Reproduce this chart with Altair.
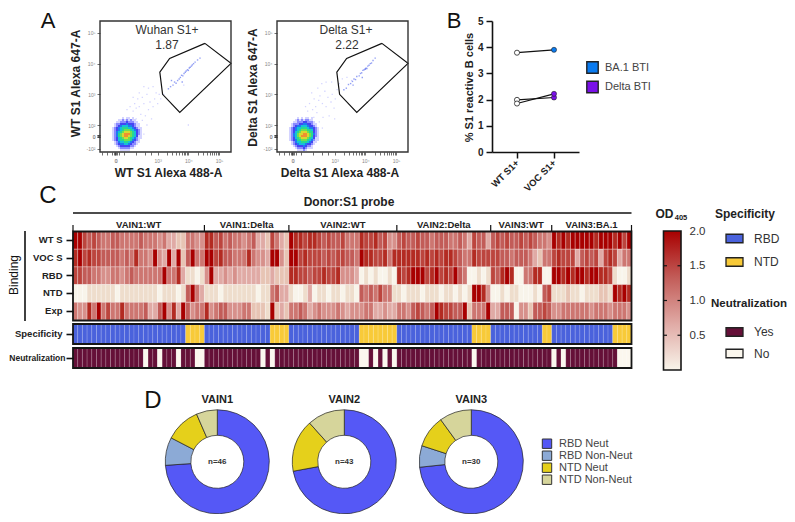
import altair as alt
import pandas as pd

F = "Liberation Sans"
W, H = 779, 506

# ---------- Panel A values (axes in decade units of the biexponential display)
gate_x = [4.54, 5.39, 3.72, 3.16, 3.07, 3.39, 4.54]
gate_y = [4.66, 4.01, 2.41, 3.00, 3.72, 4.17, 4.66]
x_ticks = [1.2, 1.35, 1.5, 1.58, 1.6, 1.62, 1.64, 1.66, 1.75, 1.9, 2.3, 2.6, 2.78, 3, 3.3, 3.48, 3.6, 3.7, 3.78, 3.85,
           3.9, 3.95, 4, 4.3, 4.48, 4.6, 4.7, 4.78, 4.85, 4.9, 4.95, 5]
y_ticks = [1.22, 1.6, 1.62, 1.64, 1.66, 1.68, 2, 3, 4, 5]
tick_labels = "{'1.22':'-10²','1.64':'0','1.62':'0','2':'10²','3':'10³','4':'10⁴','5':'10⁵'}[datum.value] || ''"

blob_1 = ["000001011010000", "000112121211000", "001122232221100", "012233343332110", "012345554432110",
          "123456665543211", "123456777654321", "124567888765321", "124678999765321", "124678998765311",
          "123567887654211", "123566777643210", "012455665432110", "012344554322100", "001233333221000",
          "000122222110000", "000011111000000"]
blob_2 = ["000010101101000", "000121212211000", "001122233222100", "012223344332110", "012344555433210",
          "123455666544321", "123456777665321", "123567888766321", "124578899876421", "124578999876321",
          "123567888765311", "123466777654211", "012455666543110", "012345554332100", "001233343221000",
          "000122232111000", "000011121000000"]

diag_1x = [3.35, 3.42, 3.5, 3.55, 3.6, 3.65, 3.7, 3.74, 3.78, 3.82, 3.86, 3.9, 3.93, 3.97, 4.0, 4.03, 4.06, 4.1, 4.13, 4.17, 4.22, 4.3, 4.38, 3.8, 3.45]
diag_1y = [3.18, 3.25, 3.3, 3.4, 3.36, 3.45, 3.5, 3.55, 3.62, 3.6, 3.68, 3.72, 3.76, 3.8, 3.78, 3.86, 3.88, 3.92, 3.96, 4.0, 4.05, 4.12, 4.18, 3.4, 3.45]
diag_2x = [3.3, 3.38, 3.45, 3.52, 3.58, 3.63, 3.68, 3.72, 3.8, 3.84, 3.88, 3.92, 3.96, 4.0, 4.02, 4.05, 4.08, 4.12, 4.16, 4.2, 4.25, 4.32, 3.6, 3.9, 4.0]
diag_2y = [3.15, 3.2, 3.32, 3.35, 3.42, 3.5, 3.48, 3.58, 3.6, 3.68, 3.7, 3.78, 3.8, 3.82, 3.85, 3.84, 3.92, 3.95, 4.0, 4.02, 4.1, 4.18, 3.3, 3.55, 3.83]
sparse_1x = [2.0, 2.1, 2.2, 2.25, 2.3, 2.35, 2.4, 2.45, 2.5, 2.55, 2.6, 2.65, 2.7, 2.75, 2.8, 2.85, 2.9, 2.95, 3.0, 3.05, 2.2, 2.4, 2.55, 2.7, 2.85, 2.5, 2.65, 2.45, 2.55, 2.35, 4.0, 3.85, 3.1, 3.2, 2.3]
sparse_1y = [2.5, 2.6, 2.45, 2.7, 2.55, 2.85, 2.6, 2.35, 2.9, 2.7, 2.3, 3.0, 2.5, 2.75, 2.2, 2.6, 2.85, 3.05, 2.7, 3.0, 2.9, 3.05, 3.25, 3.2, 3.25, 2.15, 2.0, 1.9, 1.7, 1.5, 2.0, 3.3, 2.85, 3.0, 2.2]
sparse_2x = [2.05, 2.12, 2.18, 2.28, 2.33, 2.38, 2.42, 2.48, 2.52, 2.6, 2.62, 2.68, 2.72, 2.78, 2.82, 2.88, 2.92, 2.98, 3.02, 3.08, 2.25, 2.45, 2.58, 2.72, 2.9, 3.15, 3.25, 3.4, 2.5, 2.6, 2.45, 2.4, 3.0, 3.55, 2.32]
sparse_2y = [2.6, 2.45, 2.7, 2.5, 2.85, 2.6, 2.4, 2.8, 2.95, 2.7, 2.25, 3.1, 2.6, 2.9, 2.3, 2.75, 3.0, 2.55, 2.85, 3.15, 3.05, 3.2, 3.35, 3.4, 3.4, 3.35, 3.5, 3.55, 2.1, 1.9, 1.75, 1.55, 2.2, 3.45, 2.25]

# ---------- Panel B values
b_x = ["WT S1+", "VOC S1+"]
b_wt = [3.79, 1.99, 1.85]
b_voc = [3.9, 2.08, 2.22]
b_series = ["BA.1 BTI", "Delta BTI", "Delta BTI"]

# ---------- Panel C values (each digit is one ninth of OD405 = 2.0)
rows = ["WT S", "VOC S", "RBD", "NTD", "Exp"]
wt_s = ["9976765566555565554533225544", "886756554563327532", "98878876766755587786744", "67667665666556537663", "6767667676554", "98989999989998979"]
voc_s = ["8978776666565855494393926955", "997866555854439942", "99787776767766598877858", "88888787878876558777", "7766566653255", "78777367673787355"]
rbd = ["7766554455456555555955831101", "493343433333223222", "88776778778444301010010", "87899978978796500101", "7689800558800", "99898998998871001"]
ntd = ["0001111110111111110111016953", "111011111110115633", "10013011011011065657551", "10111011101101019984", "0010110001067", "11121101112219898"]
exp_ = ["5448595755855556336948396455", "845664445522219232", "55653454445434445533433", "55467656987766925559", "3366604426676", "44555555455545554"]
row_digits = ["".join(wt_s), "".join(voc_s), "".join(rbd), "".join(ntd), "".join(exp_)]
assert all(len(r) == 119 for r in row_digits)

group_edges = [0, 28, 46, 69, 89, 102, 119]
group_names = ["VAIN1:WT", "VAIN1:Delta", "VAIN2:WT", "VAIN2:Delta", "VAIN3:WT", "VAIN3:BA.1"]
ntd_cols = [24, 25, 26, 27, 42, 43, 44, 45, 61, 62, 63, 64, 65, 66, 67, 68, 85, 86, 87, 88, 100, 101, 115, 116, 117, 118]
non_neut_cols = [15, 18, 22, 26, 27, 40, 42, 61, 62, 64, 66, 68, 85, 102, 104, 116, 117, 118]
heat_colors = ["#f8f4ea", "#e0aaa5", "#c25c58", "#a80000"]
colorbar_ticks = [0.5, 1.0, 1.5, 2.0]

# ---------- Panel D values
pie_cats = ["RBD Neut", "RBD Non-Neut", "NTD Neut", "NTD Non-Neut"]
pie_colors = ["#5558f6", "#8caad6", "#e5d01b", "#d6d59b"]
pies = {"VAIN1": [34, 4, 5, 3], "VAIN2": [31, 0, 7, 5], "VAIN3": [22, 2, 3, 3]}
pie_centers = {"VAIN1": 209.3, "VAIN2": 336.3, "VAIN3": 463.3}

layers = []


def txt(s, x, y, size, bold=False, color="#222222", align="center", angle=0):
    c = alt.Chart(pd.DataFrame({"t": [s]})).mark_text(
        font=F, fontSize=size, fontWeight="bold" if bold else "normal", color=color,
        align=align, baseline="middle", angle=angle,
    ).encode(x=alt.value(x - 8), y=alt.value(y - 8), text="t:N")
    layers.append(c)


# ---------- Panel letters
txt("A", 48, 21, 22, color="#111111")
txt("B", 454, 21, 22, color="#111111")
txt("C", 48, 196, 24, color="#111111")
txt("D", 153, 401, 24, color="#111111")


# ---------- Panel A
def flow(dx, blob, dx_pts, dy_pts, sx_pts, sy_pts, name, value, title_cx, value_cx, xtitle, ytitle, xt_cx, yt_cy, yt_x):
    xs = alt.Scale(domain=[1.12, 5.39], range=[92 + dx, 223 + dx], nice=False, zero=False)
    ys = alt.Scale(domain=[1.12, 5.39], range=[144, 13], nice=False, zero=False)
    sparse = pd.DataFrame({"x": sx_pts, "y": sy_pts})
    layers.append(alt.Chart(sparse).mark_square(size=1.6, color="#aeb0ff", opacity=0.55).encode(
        x=alt.X("x:Q", scale=xs, axis=None), y=alt.Y("y:Q", scale=ys, axis=None)))
    diag = pd.DataFrame({"x": dx_pts, "y": dy_pts})
    layers.append(alt.Chart(diag).mark_square(size=2.0, color="#6f80f0", opacity=0.75).encode(
        x=alt.X("x:Q", scale=xs, axis=None), y=alt.Y("y:Q", scale=ys, axis=None)))
    cells = [{"i": i, "i2": i + 1, "j": j, "j2": j + 1, "d": ch}
             for j, r in enumerate(blob) for i, ch in enumerate(r) if ch != "0"]
    layers.append(alt.Chart(pd.DataFrame(cells)).mark_rect().encode(
        x=alt.X("i:Q", scale=alt.Scale(domain=[0, 15], range=[104 + dx, 134 + dx], nice=False, zero=False), axis=None),
        x2="i2:Q",
        y=alt.Y("j:Q", scale=alt.Scale(domain=[0, 17], range=[109, 143], nice=False, zero=False), axis=None),
        y2="j2:Q",
        color=alt.Color("d:N", legend=None, scale=alt.Scale(
            domain=list("123456789"),
            range=["#d4d4ff", "#8a8aff", "#4545f2", "#1c7cf0", "#16c0d8", "#28d890", "#70e050", "#d8d830", "#f09030"])),
    ))
    gate = pd.DataFrame({"x": gate_x, "y": gate_y, "o": list(range(len(gate_x)))})
    layers.append(alt.Chart(gate).mark_line(color="#111111", strokeWidth=1.2).encode(
        x=alt.X("x:Q", scale=xs, axis=None), y=alt.Y("y:Q", scale=ys, axis=None), order="o:Q"))
    box = pd.DataFrame({"x": [1.12], "x2": [5.39], "y": [1.12], "y2": [5.39]})
    layers.append(alt.Chart(box).mark_rect(fillOpacity=0, stroke="#333333", strokeWidth=1.4).encode(
        x=alt.X("x:Q", scale=xs, axis=alt.Axis(
            orient="bottom", offset=144 - H, values=x_ticks, labelExpr=tick_labels, labelFontSize=5, labelColor="#888888",
            labelFont=F, tickSize=3, tickWidth=0.7, tickColor="#333333", domain=False, grid=False, labelPadding=3,
            labelOverlap=False, title=xtitle, titleFont=F, titleFontSize=12, titleFontWeight="bold", titleColor="#222222",
            titleX=xt_cx - 8, titleY=20, titleBaseline="middle")),
        x2="x2:Q",
        y=alt.Y("y:Q", scale=ys, axis=alt.Axis(
            orient="left", offset=-(92 + dx), values=y_ticks, labelExpr=tick_labels, labelFontSize=5, labelColor="#888888",
            labelFont=F, tickSize=3, tickWidth=0.7, tickColor="#333333", domain=False, grid=False, labelPadding=2,
            labelOverlap=False, title=ytitle, titleFont=F, titleFontSize=12, titleFontWeight="bold", titleColor="#222222",
            titleX=yt_x - (100 + dx), titleY=yt_cy - 8, titleBaseline="middle")),
        y2="y2:Q",
    ))
    txt(name, title_cx, 30, 12, color="#333333")
    txt(value, value_cx, 45, 12, color="#333333")


flow(0, blob_1, diag_1x, diag_1y, sparse_1x, sparse_1y, "Wuhan S1+", "1.87", 167, 167,
     "WT S1 Alexa 488-A", "WT S1 Alexa 647-A", 168, 83, 75)
flow(177, blob_2, diag_2x, diag_2y, sparse_2x, sparse_2y, "Delta S1+", "2.22", 346, 347,
     "Delta S1 Alexa 488-A", "Delta S1 Alexa 647-A", 339.5, 87, 252)

# ---------- Panel B
bx = alt.Scale(type="point", domain=b_x, range=[484, 571], padding=0.676)
by = alt.Scale(domain=[0, 5], range=[144, 13], nice=False, zero=False)
pair_rows = []
for idx, (a, b, s) in enumerate(zip(b_wt, b_voc, b_series)):
    pair_rows.append({"cat": b_x[0], "v": a, "pair": idx, "series": s})
    pair_rows.append({"cat": b_x[1], "v": b, "pair": idx, "series": s})
pairs = pd.DataFrame(pair_rows)
layers.append(alt.Chart(pairs).mark_line(color="#111111", strokeWidth=1.2).encode(
    x=alt.X("cat:N", scale=bx, sort=b_x, axis=alt.Axis(
        orient="bottom", offset=144 - H, labelAngle=-45, labelAlign="right", labelBaseline="middle", labelFont=F,
        labelFontSize=9.5, labelFontWeight="bold", labelColor="#222222", tickColor="#111111", tickWidth=1.5, tickSize=6,
        domainColor="#111111", domainWidth=1.6, title=None, grid=False, labelPadding=3)),
    y=alt.Y("v:Q", scale=by, axis=alt.Axis(
        orient="left", offset=-484, values=[0, 1, 2, 3, 4, 5], labelFont=F, labelFontSize=10, labelFontWeight="bold",
        labelColor="#222222", tickColor="#111111", tickWidth=1.5, tickSize=6, domainColor="#111111", domainWidth=1.6,
        grid=False, labelPadding=3, title="% S1 reactive B cells", titleFont=F, titleFontSize=11, titleFontWeight="bold",
        titleColor="#222222", titleX=-23, titleY=79, titleBaseline="middle")),
    detail="pair:N",
))
layers.append(alt.Chart(pairs[pairs.cat == b_x[0]]).mark_circle(size=26, color="white", stroke="#222222", strokeWidth=0.8, opacity=1).encode(
    x=alt.X("cat:N", scale=bx, sort=b_x, axis=None), y=alt.Y("v:Q", scale=by, axis=None)))
layers.append(alt.Chart(pairs[pairs.cat == b_x[1]]).mark_circle(size=26, stroke="#222222", strokeWidth=0.6, opacity=1).encode(
    x=alt.X("cat:N", scale=bx, sort=b_x, axis=None), y=alt.Y("v:Q", scale=by, axis=None),
    color=alt.Color("series:N", scale=alt.Scale(domain=["BA.1 BTI", "Delta BTI"], range=["#0a7bf0", "#7a10e8"]),
                    legend=alt.Legend(orient="none", legendX=578, legendY=53, title=None, symbolType="square",
                                      symbolSize=130, symbolStrokeColor="#222222", symbolStrokeWidth=1.4,
                                      symbolOpacity=1, labelFont=F, labelFontSize=11, labelColor="#444444",
                                      rowPadding=0.5, labelOffset=6)),
))

# ---------- Panel C
kx = alt.Scale(domain=[0, 119], range=[65, 623.5], nice=False, zero=False)
bandx = alt.Scale(type="band", domain=list(range(119)), range=[65, 623.5], paddingInner=0, paddingOuter=0)
heat_rows = [{"k": k, "row": rows[r], "od": int(ch) * 2 / 9}
             for r, s in enumerate(row_digits) for k, ch in enumerate(s)]
row_axis = dict(orient="left", offset=-65, labelFont=F, labelFontSize=9.5, labelFontWeight="bold", labelColor="#222222",
                tickSize=7, tickWidth=1.6, tickColor="#111111", domain=False, grid=False, title=None, labelPadding=4)
layers.append(alt.Chart(pd.DataFrame(heat_rows)).mark_rect(stroke="#ffffff", strokeWidth=0.5, strokeOpacity=0.55).encode(
    x=alt.X("k:O", scale=bandx, axis=None),
    y=alt.Y("row:N", sort=rows, scale=alt.Scale(type="band", domain=rows, range=[223.5, 312], paddingInner=0, paddingOuter=0),
            axis=alt.Axis(**row_axis)),
    color=alt.Color("od:Q", legend=None, scale=alt.Scale(domain=[0, 0.667, 1.333, 2], range=heat_colors)),
))
spec = pd.DataFrame({"k": list(range(119)), "row": "Specificity",
                     "s": ["NTD" if k in ntd_cols else "RBD" for k in range(119)]})
layers.append(alt.Chart(spec).mark_rect(stroke="#ffffff", strokeWidth=0.5, strokeOpacity=0.3).encode(
    x=alt.X("k:O", scale=bandx, axis=None),
    y=alt.Y("row:N", scale=alt.Scale(type="band", domain=["Specificity"], range=[316, 336], paddingInner=0, paddingOuter=0),
            axis=alt.Axis(**row_axis)),
    color=alt.Color("s:N", scale=alt.Scale(domain=["RBD", "NTD"], range=["#4a62dc", "#f8ca38"]),
                    legend=alt.Legend(orient="none", legendX=707, legendY=201, title="Specificity", titleFont=F, titleFontSize=12,
                                      titleFontWeight="bold", titleColor="#222222", titlePadding=8,
                                      symbolType="M-1,-0.5H1V0.5H-1Z", symbolSize=289, symbolOffset=10,
                                      symbolStrokeColor="#222222", symbolStrokeWidth=1.3, symbolOpacity=1, labelFont=F, labelFontSize=12,
                                      labelColor="#333333", rowPadding=6.5, labelOffset=10)),
))
neut = pd.DataFrame({"k": list(range(119)), "row": "Neutralization",
                     "s": ["No" if k in non_neut_cols else "Yes" for k in range(119)]})
neut_axis = dict(row_axis, labelFontSize=8.5, labelPadding=1)
layers.append(alt.Chart(neut).mark_rect(stroke="#ffffff", strokeWidth=0.5, strokeOpacity=0.3).encode(
    x=alt.X("k:O", scale=bandx, axis=None),
    y=alt.Y("row:N", scale=alt.Scale(type="band", domain=["Neutralization"], range=[340, 360], paddingInner=0, paddingOuter=0),
            axis=alt.Axis(**neut_axis)),
    color=alt.Color("s:N", scale=alt.Scale(domain=["Yes", "No"], range=["#651038", "#fbf7ee"]),
                    legend=alt.Legend(orient="none", legendX=703, legendY=290, title="Neutralization", titleFont=F, titleFontSize=11.5,
                                      titleFontWeight="bold", titleColor="#222222", titlePadding=13,
                                      symbolType="M-1,-0.5H1V0.5H-1Z", symbolSize=289, symbolOffset=14,
                                      symbolStrokeColor="#222222", symbolStrokeWidth=1.3, symbolOpacity=1, labelFont=F, labelFontSize=12,
                                      labelColor="#333333", rowPadding=4.5, labelOffset=10)),
))
# frames around the three strips
for y0, y1 in [(0, 89), (92.5, 112.5), (116.5, 136.5)]:
    frame = pd.DataFrame({"a": [0], "b": [119], "u": [y0], "v": [y1]})
    layers.append(alt.Chart(frame).mark_rect(fillOpacity=0, stroke="#161616", strokeWidth=1.8).encode(
        x=alt.X("a:Q", scale=kx, axis=None), x2="b:Q",
        y=alt.Y("u:Q", scale=alt.Scale(domain=[0, 136.5], range=[223.5, 360], nice=False, zero=False), axis=None), y2="v:Q"))
# donor header, brackets and group labels
top = pd.DataFrame({"a": [0], "b": [119]})
layers.append(alt.Chart(top).mark_rule(color="#111111", strokeWidth=1.6).encode(
    x=alt.X("a:Q", scale=kx, axis=None), x2="b:Q", y=alt.value(205)))
edges = pd.DataFrame({"e": group_edges})
layers.append(alt.Chart(edges).mark_rule(color="#111111", strokeWidth=1.2).encode(
    x=alt.X("e:Q", scale=kx, axis=None), y=alt.value(217), y2=alt.value(223)))
mids = pd.DataFrame({"m": [(a + b) / 2 for a, b in zip(group_edges[:-1], group_edges[1:])], "t": group_names})
layers.append(alt.Chart(mids).mark_text(font=F, fontSize=9.5, fontWeight="bold", color="#222222", baseline="middle").encode(
    x=alt.X("m:Q", scale=kx, axis=None), y=alt.value(216.5), text="t:N"))
txt("Donor:S1 probe", 349, 202, 12, bold=True)
txt("Binding", 14, 275, 12, color="#111111", angle=270)
layers.append(alt.Chart(pd.DataFrame({"r": [0]})).mark_rule(color="#111111", strokeWidth=1.6).encode(
    x=alt.value(17), y=alt.value(223), y2=alt.value(313)))

# colour bar
cb_y = alt.Scale(domain=[0, 2], range=[362, 223], nice=False, zero=False)
cbar = pd.DataFrame({"u": [0], "v": [2], "a": [0], "b": [1]})
cb_x = alt.Scale(domain=[0, 1], range=[655.5, 673], nice=False, zero=False)
grad = alt.Gradient(gradient="linear", x1=0, x2=0, y1=1, y2=0, stops=[
    alt.GradientStop(color=heat_colors[0], offset=0), alt.GradientStop(color=heat_colors[1], offset=0.333),
    alt.GradientStop(color=heat_colors[2], offset=0.667), alt.GradientStop(color=heat_colors[3], offset=1)])
layers.append(alt.Chart(cbar).mark_rect(fill=grad, stroke="#161616", strokeWidth=1.6).encode(
    x=alt.X("a:Q", scale=cb_x, axis=None), x2="b:Q",
    y=alt.Y("u:Q", scale=cb_y, axis=alt.Axis(orient="right", offset=673 - W, values=colorbar_ticks, format=".1f", ticks=False,
                                             domain=False, grid=False, labelFont=F, labelFontSize=11.5, labelColor="#333333",
                                             labelPadding=8, labelBaseline="middle", title=None)),
    y2="v:Q"))
ct = pd.DataFrame({"t": colorbar_ticks[:3]})
for a, b in [(0, 0.2), (0.8, 1)]:
    ct2 = ct.assign(a=a, b=b)
    layers.append(alt.Chart(ct2).mark_rule(color="#161616", strokeWidth=1.2).encode(
        x=alt.X("a:Q", scale=cb_x, axis=None), x2="b:Q", y=alt.Y("t:Q", scale=cb_y, axis=None)))
txt("OD", 664.5, 214, 12, bold=True)
txt("405", 681, 217.5, 7.5, bold=True)

# ---------- Panel D
pie_color = alt.Scale(domain=pie_cats, range=pie_colors)
for idx, (name, vals) in enumerate(pies.items()):
    df = pd.DataFrame({"cat": pie_cats, "v": vals, "o": [0, 1, 2, 3]})
    df = df[df.v > 0]
    layers.append(alt.Chart(df).mark_arc(outerRadius=52, innerRadius=26.5, stroke="#222222", strokeWidth=0.7, opacity=1).encode(
        x=alt.value(pie_centers[name]), y=alt.value(453.8),
        theta=alt.Theta("v:Q", stack=True),
        order=alt.Order("o:Q"),
        color=alt.Color("cat:N", scale=pie_color, legend=None),
    ))
    txt(name, pie_centers[name] + 8, 400, 11, bold=True)
    txt("n=%d" % sum(vals), pie_centers[name] + 8, 462, 8, bold=True, color="#333333")

key = pd.DataFrame({"cat": pie_cats})
key_y = alt.Scale(type="band", domain=pie_cats, range=[429.7, 477.7], paddingInner=0, paddingOuter=0)
layers.append(alt.Chart(key).mark_square(size=88, stroke="#333333", strokeWidth=1, opacity=1).encode(
    x=alt.value(539), y=alt.Y("cat:N", scale=key_y, axis=None),
    color=alt.Color("cat:N", scale=pie_color, legend=None)))
layers.append(alt.Chart(key).mark_text(font=F, fontSize=11, color="#444444", align="left", baseline="middle").encode(
    x=alt.value(551), y=alt.Y("cat:N", scale=key_y, axis=None), text="cat:N"))

chart = (
    alt.layer(*layers)
    .resolve_scale(x="independent", y="independent", color="independent", theta="independent")
    .resolve_axis(x="independent", y="independent")
    .resolve_legend(color="independent")
    .properties(width=W, height=H, padding=0, autosize=alt.AutoSizeParams(type="none"), background="white")
    .configure_view(stroke=None)
)
chart.save("out.html", embed_options={"renderer": "svg", "actions": False})
